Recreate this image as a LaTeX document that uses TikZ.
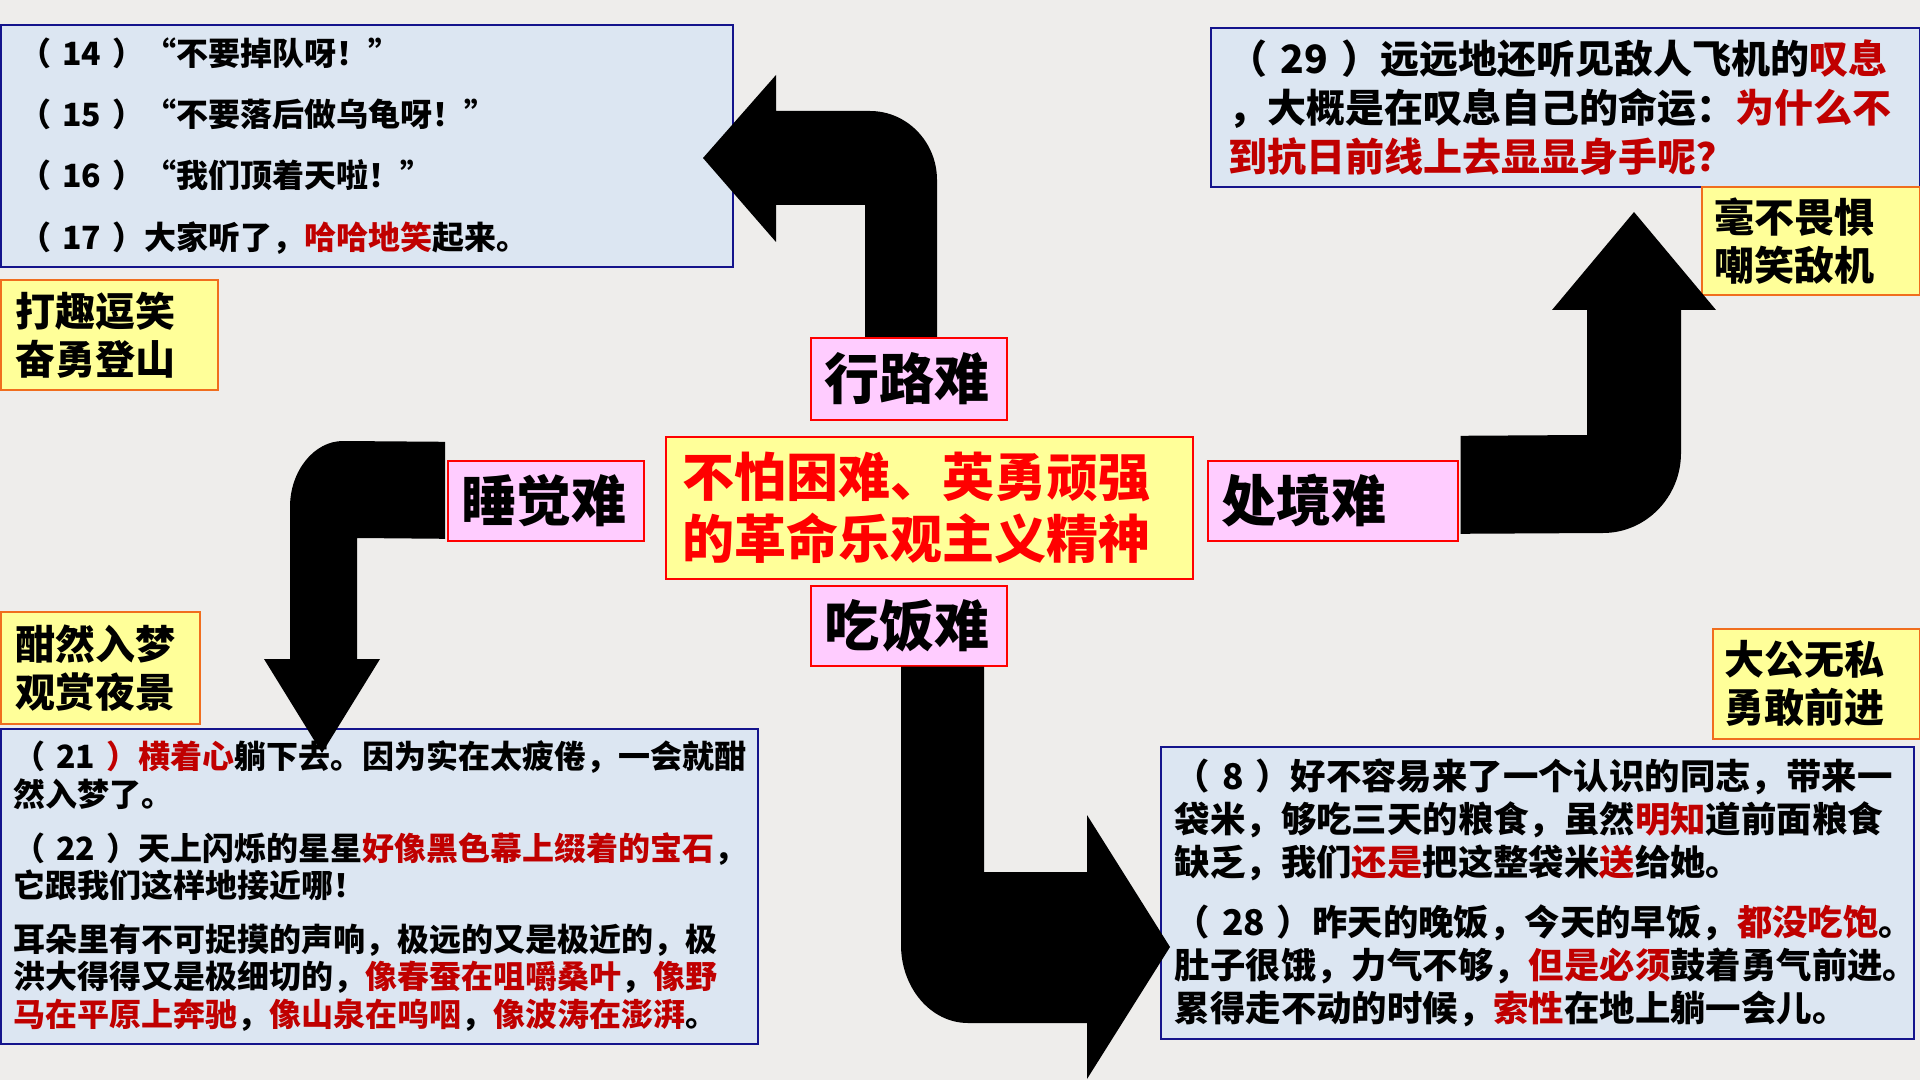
\documentclass[tikz,border=0pt]{standalone}
\usepackage{fontspec}
\usepackage{tikz}
\usetikzlibrary{calc}
\newfontfamily\hei{Noto Sans CJK SC}
\definecolor{bgpaper}{RGB}{238,237,235}
\definecolor{boxblue}{RGB}{220,230,242}
\definecolor{boxline}{RGB}{20,20,140}
\definecolor{tagyellow}{RGB}{255,255,153}
\definecolor{tagline}{RGB}{240,110,30}
\definecolor{labelpink}{RGB}{255,204,255}
\definecolor{hongse}{RGB}{192,0,0}
\newcommand{\hong}[1]{\textcolor{hongse}{#1}}

\begin{document}
\begin{tikzpicture}[x=0.5pt,y=-0.5pt,
		every node/.style={anchor=north west,align=left,inner ysep=0pt},
		textbox/.style={draw=boxline,fill=boxblue,line width=0.8pt},
		tagbox/.style={draw=tagline,fill=tagyellow,line width=0.8pt,font=\hei\bfseries\fontsize{20}{24}\selectfont},
		nanbox/.style={draw=red,fill=labelpink,line width=0.8pt,inner xsep=7pt,minimum height=41pt,text width=84pt,font=\hei\bfseries\fontsize{27.5}{30}\selectfont},
		jiantou/.style={fill=black}]
			\fill[bgpaper] (0,0) rectangle (1920,1080);
			\useasboundingbox (0,0) rectangle (1920,1080);
			\node[textbox,text width=347pt,inner xsep=9.5pt,minimum height=121pt,font=\hei\bfseries\fontsize{16}{30.7}\selectfont] (lubox) at (0,24) {（~14~）“不要掉队呀！”\\（~15~）“不要落后做乌龟呀！”\\（~16~）“我们顶着天啦！”\\（~17~）大家听了，\hong{哈哈地笑}起来。};
			\node[tagbox,text width=93.5pt,inner xsep=7.5pt,minimum height=55pt] (lutag) at (0,279) {打趣逗笑\\奋勇登山};
			\node[textbox,text width=336.5pt,inner xsep=9pt,minimum height=79.5pt,font=\hei\bfseries\fontsize{19.5}{24.5}\selectfont] (chubox) at (1210,27) {（~29~）远远地还听见敌人飞机的\hong{叹息}\\，大概是在叹息自己的命运：\hong{为什么不}\\\hong{到抗日前线上去显显身手呢？}};
			\node[tagbox,text width=96pt,inner xsep=6.5pt,minimum height=54pt] (chutag) at (1701,186) {毫不畏惧\\嘲笑敌机};
			\node[tagbox,text width=84.5pt,inner xsep=7.5pt,minimum height=56pt] (shuitag) at (0,611) {酣然入梦\\观赏夜景};
			\node[textbox,text width=365.5pt,inner xsep=6.5pt,minimum height=157.5pt,font=\hei\bfseries\fontsize{16}{18.8}\selectfont] (shuibox) at (0,728) {（~21~\hong{）横着心}躺下去。因为实在太疲倦，一会就酣\\然入梦了。\\[8pt]（~22~）天上闪烁的星星\hong{好像黑色幕上缀着的宝石}，\\它跟我们这样地接近哪！\\[8pt]耳朵里有不可捉摸的声响，极远的又是极近的，极\\洪大得得又是极细切的，\hong{像春蚕在咀嚼桑叶}，\hong{像野}\\\hong{马在平原上奔驰}，\hong{像山泉在呜咽}，\hong{像波涛在澎湃}。};
			\node[tagbox,text width=91.5pt,inner xsep=6pt,minimum height=55pt] (chitag) at (1712,628) {大公无私\\勇敢前进};
			\node[textbox,text width=362.5pt,inner xsep=7pt,minimum height=146pt,font=\hei\bfseries\fontsize{17.7}{21.5}\selectfont] (chibox) at (1160,746) {（~8~）好不容易来了一个认识的同志，带来一\\袋米，够吃三天的粮食，虽然\hong{明知}道前面粮食\\缺乏，我们\hong{还是}把这整袋米\hong{送}给她。\\[8.5pt]（~28~）昨天的晚饭，今天的早饭，\hong{都没吃饱}。\\肚子很饿，力气不够，\hong{但是必须}鼓着勇气前进。\\累得走不动的时候，\hong{索性}在地上躺一会儿。};
			\node[nanbox] (xinglu) at (810,337) {行路难};
			\node[nanbox,minimum height=40pt] (chifan) at (810,585) {吃饭难};
			\node[nanbox,minimum height=40pt] (shuijiao) at (447,460) {睡觉难};
			\node[nanbox,minimum height=40pt,text width=111pt] (chujing) at (1207,460) {处境难};
			\node[draw=red,fill=tagyellow,line width=0.8pt,text width=246.5pt,inner xsep=8.5pt,minimum height=71pt,text=red,font=\hei\bfseries\fontsize{26}{31}\selectfont] (jingshen) at (665,436) {不怕困难、英勇顽强\\的革命乐观主义精神};
			\fill[jiantou] ($(xinglu.north west)+(55,0)$) -- (865,205) -- (776,205) -- (776,242) -- (703,158) -- (776,75) -- (776,111) -- (870,111) .. controls (907,111) and (937,142) .. (937,180) -- ($(xinglu.north west)+(127,0)$) -- cycle;
			\fill[jiantou] ($(chifan.south west)+(91,0)$) -- (901,945) .. controls (901,988) and (931,1023) .. (968,1023) -- (1087,1023) -- (1087,1079) -- (1170,947) -- (1087,815) -- (1087,872) -- (984,872) -- ($(chifan.south west)+(174,0)$) -- cycle;
			\fill[jiantou] ($(chujing.east)+(2,-65)$) -- (1587,435) -- (1587,310) -- (1552,310) -- (1634,212) -- (1716,310) -- (1681,310) -- (1681,453) .. controls (1681,497) and (1646,533) .. (1603,533) -- ($(chujing.east)+(2,33)$) -- cycle;
			\fill[jiantou] ($(shuijiao.west)+(-2,-59)$) -- (343,441) .. controls (314,441) and (290,471) .. (290,507) -- (290,659) -- (264,659) -- (322,753) -- (380,659) -- (357,659) -- (357,538) -- ($(shuijiao.west)+(-2,38)$) -- cycle;
		\end{tikzpicture}
\end{document}
